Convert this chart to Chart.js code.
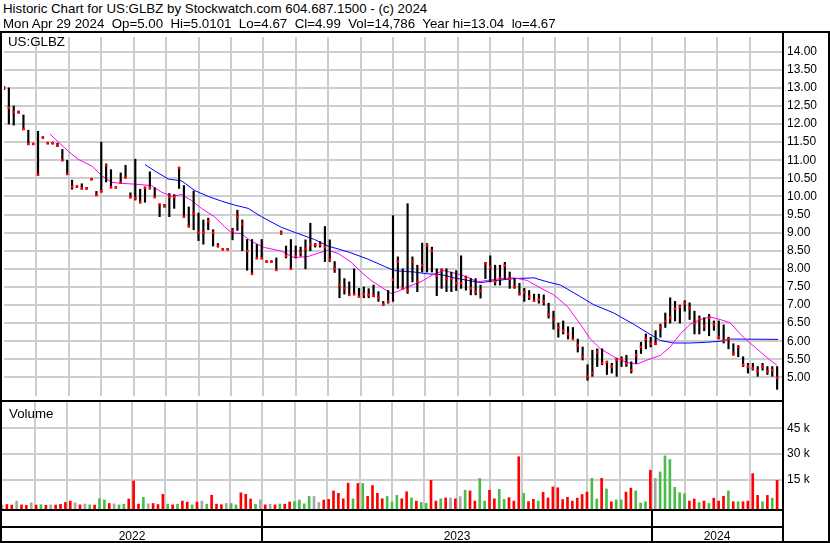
<!DOCTYPE html>
<html>
<head>
<meta charset="utf-8">
<script src="https://cdn.jsdelivr.net/npm/chart.js@4.4.0/dist/chart.umd.min.js"></script>
<style>
  body { margin: 0; background: #fff; }
  #wrap { position: relative; width: 830px; height: 543px; background: #fff; overflow: hidden;
          font-family: "Liberation Sans", Arial, sans-serif; font-size: 13.3px; color: #000; }
  .t { position: absolute; white-space: pre; line-height: 15px; }
  .k { position: absolute; background: #000; }
  canvas { position: absolute; left: 0; }
</style>
</head>
<body>
<div id="wrap">
  <canvas id="price" width="830" height="367" style="top:33px"></canvas>
  <canvas id="vol" width="830" height="141" style="top:402px"></canvas>

  <div class="t" style="left:3px;top:1px">Historic Chart for US:GLBZ by Stockwatch.com 604.687.1500 - (c) 2024</div>
  <div class="t" style="left:3px;top:16px">Mon Apr 29 2024  Op=5.00  Hi=5.0101  Lo=4.67  Cl=4.99  Vol=14,786  Year hi=13.04  lo=4.67</div>
  <div class="t" style="left:8px;top:34px">US:GLBZ</div>
  <div class="t" style="left:9px;top:406px">Volume</div>

  <div class="k" style="left:0;top:31px;width:830px;height:2px"></div>
  <div class="k" style="left:0;top:31px;width:2px;height:512px"></div>
  <div class="k" style="left:782px;top:31px;width:2px;height:512px"></div>
  <div class="k" style="left:828px;top:31px;width:2px;height:512px"></div>
  <div class="k" style="left:0;top:400px;width:784px;height:2px"></div>
  <div class="k" style="left:0;top:509px;width:784px;height:2px"></div>
  <div class="k" style="left:0;top:526px;width:784px;height:2px"></div>
  <div class="k" style="left:0;top:541px;width:830px;height:2px"></div>
</div>

<script>
// x axis is in months since May 1 2022; one sample every STEP months
const STEP = 0.15;
const MONTHS = 24;

// sampled bars: low / high / close
const lows = [
  12.95, 12.0, 11.97, 12.3, 11.85, 11.43, 11.43, 10.6, 11.6, 11.45,
  11.45, 11.38, 11.0, 10.6, 10.2, 10.25, 10.2, 10.2, 10.45, 10.02,
  10.12, 10.4, 10.25, 10.23, 10.38, 10.52, 9.96, 9.9, 9.82, 9.84,
  10.2, 9.98, 9.44, 9.7, 9.44, 9.67, 10.22, 9.44, 9.17, 9.08,
  8.78, 8.68, 9.08, 8.63, 8.6, 8.52, 8.52, 8.8, 9.06, 8.5,
  7.96, 7.86, 8.29, 8.29, 8.18, 8.18, 7.97, 8.95, 8.3, 8.0,
  8.3, 8.35, 8.0, 8.5, 8.6, 8.6, 8.2, 8.2, 7.9, 7.2,
  7.3, 7.28, 7.28, 7.23, 7.2, 7.2, 7.23, 7.1, 7.0, 7.05,
  7.1, 7.46, 7.46, 7.32, 7.64, 7.37, 7.91, 7.91, 7.91, 7.26,
  7.46, 7.37, 7.37, 7.4, 7.46, 7.41, 7.28, 7.28, 7.19, 7.73,
  7.64, 7.55, 7.55, 7.73, 7.46, 7.46, 7.28, 7.1, 7.15, 7.1,
  7.05, 7.0, 6.64, 6.33, 6.11, 6.2, 6.06, 6.06, 5.7, 5.48,
  4.92, 5.03, 5.3, 5.35, 5.08, 5.12, 5.03, 5.3, 5.3, 5.12,
  5.39, 5.66, 5.79, 5.84, 5.9, 6.11, 6.38, 6.5, 6.56, 6.5,
  6.83, 6.6, 6.2, 6.2, 6.29, 6.15, 6.3, 6.06, 5.95, 5.79,
  5.61, 5.57, 5.3, 5.12, 5.2, 5.03, 5.2, 5.08, 5.03, 4.67
];
const highs = [
  13.04, 13.0, 12.5, 12.36, 12.25, 11.83, 11.47, 11.8, 11.65, 11.5,
  11.5, 11.47, 11.3, 11.0, 10.45, 10.3, 10.35, 10.25, 10.5, 10.14,
  11.5, 10.9, 10.74, 10.27, 10.65, 10.86, 10.1, 11.03, 10.2, 10.26,
  10.68, 10.24, 9.78, 9.78, 10.08, 10.05, 10.8, 10.3, 9.71, 10.15,
  9.54, 9.35, 9.4, 9.08, 8.7, 8.56, 8.56, 9.12, 9.62, 9.35,
  8.81, 8.81, 8.67, 8.81, 8.22, 8.22, 8.3, 9.05, 8.63, 8.81,
  8.63, 8.6, 8.8, 9.26, 8.7, 8.75, 9.17, 8.8, 8.2, 8.0,
  7.73, 7.64, 8.0, 7.46, 7.5, 7.45, 7.55, 7.37, 7.1, 7.4,
  9.47, 8.33, 8.0, 9.8, 8.33, 8.1, 8.71, 8.7, 8.6, 8.0,
  8.0, 8.0, 7.91, 7.95, 8.36, 7.8, 7.73, 7.73, 7.55, 8.18,
  8.36, 8.1, 8.1, 8.18, 7.91, 7.73, 7.6, 7.46, 7.4, 7.3,
  7.3, 7.28, 7.05, 6.83, 6.5, 6.56, 6.4, 6.38, 6.06, 5.84,
  5.35, 5.75, 5.79, 5.79, 5.45, 5.39, 5.52, 5.57, 5.61, 5.43,
  5.75, 5.97, 6.2, 6.11, 6.29, 6.47, 6.78, 7.2, 7.1, 7.0,
  7.12, 7.06, 6.83, 6.7, 6.65, 6.74, 6.56, 6.56, 6.45, 6.11,
  5.93, 5.88, 5.57, 5.39, 5.39, 5.3, 5.39, 5.3, 5.3, 5.3
];
const closes = [
  13.0, 12.45, 12.33, 12.33, 11.86, 11.45, 11.45, 10.6, 11.63, 11.47,
  11.47, 11.4, 11.0, 10.62, 10.27, 10.27, 10.22, 10.22, 10.48, 10.04,
  10.14, 10.86, 10.25, 10.25, 10.38, 10.52, 9.98, 9.95, 9.84, 10.24,
  10.24, 9.98, 9.78, 9.74, 10.0, 9.98, 10.79, 9.44, 9.17, 9.53,
  9.0, 9.0, 9.3, 9.0, 8.63, 8.54, 8.54, 9.06, 9.44, 9.24,
  8.49, 7.86, 8.29, 8.29, 8.2, 8.2, 7.97, 9.0, 8.36, 8.0,
  8.35, 8.45, 8.55, 8.67, 8.67, 8.67, 8.6, 8.25, 8.0, 7.55,
  7.45, 7.28, 7.3, 7.23, 7.3, 7.28, 7.25, 7.2, 7.01, 7.1,
  7.7, 8.2, 7.46, 7.4, 8.2, 7.64, 8.09, 8.65, 8.5, 7.82,
  7.95, 7.73, 7.73, 7.6, 7.6, 7.75, 7.46, 7.37, 7.4, 8.15,
  8.05, 7.65, 7.73, 8.09, 7.73, 7.5, 7.3, 7.35, 7.23, 7.12,
  7.15, 7.1, 6.74, 6.6, 6.38, 6.29, 6.2, 6.06, 5.88, 5.57,
  5.03, 5.12, 5.7, 5.4, 5.42, 5.3, 5.48, 5.5, 5.39, 5.2,
  5.61, 5.84, 6.06, 5.93, 5.93, 6.38, 6.56, 6.65, 6.9, 6.95,
  7.05, 6.92, 6.5, 6.6, 6.42, 6.65, 6.47, 6.11, 6.02, 6.06,
  5.66, 5.84, 5.35, 5.3, 5.25, 5.17, 5.3, 5.17, 5.2, 4.99
];
const volumes = [
  500, 800, 500, 2800, 600, 300, 1800, 500, 700, 400,
  600, 500, 900, 2000, 2800, 1800, 600, 1100, 600, 500,
  4200, 3500, 1400, 1200, 600, 900, 4000, 14500, 1000, 5000,
  1200, 1400, 800, 6700, 1000, 600, 1000, 2800, 2200, 600,
  2200, 2800, 1000, 6200, 1000, 700, 1400, 1400, 600, 7600,
  6700, 4000, 900, 3500, 600, 1000, 600, 1100, 1000, 2300,
  2500, 3400, 1200, 5500, 5500, 2000, 3400, 3800, 8700, 7300,
  4100, 13200, 4100, 13000, 13000, 5500, 11800, 7300, 4100, 5500,
  2300, 6100, 4100, 8200, 4600, 2800, 2000, 1500, 14800, 2800,
  4100, 4600, 4600, 4100, 5400, 9100, 8700, 2800, 15900, 2800,
  9100, 4100, 9600, 3800, 4800, 2800, 28500, 7300, 2500, 3800,
  2800, 7900, 4600, 11000, 10500, 3700, 5000, 2800, 4500, 6600,
  8000, 16000, 4000, 16000, 9800, 2400, 3500, 3500, 8000, 10300,
  8700, 1700, 2400, 20700, 16000, 19700, 29000, 26900, 10800, 7700,
  7000, 2800, 4000, 1900, 2800, 1400, 4500, 2800, 5600, 8700,
  2400, 2400, 2400, 2800, 18700, 6100, 2400, 6100, 4500, 14786
];

// moving averages (month, price)
const maShortMonths = [1.42, 1.99, 2.30, 2.71, 3.02, 3.32, 3.63, 4.04, 4.55, 4.86, 5.17, 5.48, 5.78, 6.09, 6.49, 6.80, 7.02, 7.32, 7.63, 8.03,
  8.55, 8.95, 9.38, 9.68, 9.99, 10.30, 10.71, 11.02, 11.32, 11.63, 11.94, 12.14, 12.45, 12.86, 13.27, 13.58, 13.99, 14.30, 14.61, 14.91,
  15.32, 15.73, 16.14, 16.55, 16.96, 17.38, 17.78, 18.09, 18.40, 18.81, 19.22, 19.53, 19.84, 20.25, 20.55, 20.86, 21.17, 21.48, 21.78, 22.09,
  22.40, 22.81, 23.22, 23.63, 23.84];
const maShort = [11.72, 11.24, 11.02, 10.84, 10.57, 10.39, 10.36, 10.34, 10.30, 10.12, 10.00, 10.05, 9.89, 9.67, 9.44, 9.17, 8.99, 8.97, 8.76, 8.59,
  8.49, 8.31, 8.34, 8.43, 8.51, 8.43, 8.18, 7.91, 7.68, 7.50, 7.32, 7.37, 7.50, 7.64, 7.86, 7.95, 7.86, 7.77, 7.64, 7.68,
  7.73, 7.75, 7.68, 7.47, 7.28, 6.96, 6.47, 6.06, 5.79, 5.57, 5.41, 5.37, 5.48, 5.61, 5.84, 6.20, 6.47, 6.60, 6.67, 6.60,
  6.51, 6.11, 5.79, 5.48, 5.34];
const maLongMonths = [4.35, 4.66, 5.07, 5.48, 5.89, 6.30, 6.71, 7.12, 7.53, 7.94, 8.55, 8.96, 9.58, 9.99, 10.61, 11.22, 11.73, 12.04, 12.66, 13.07,
  13.48, 13.89, 14.30, 14.71, 15.22, 15.73, 16.35, 16.76, 17.17, 17.78, 18.19, 18.81, 19.42, 19.84, 20.25, 20.66, 21.17, 21.68, 22.09, 22.40, 23.88];
const maLong = [10.88, 10.70, 10.48, 10.43, 10.16, 10.00, 9.87, 9.76, 9.67, 9.44, 9.15, 9.01, 8.81, 8.63, 8.47, 8.27, 8.07, 7.95, 7.91, 7.86,
  7.84, 7.75, 7.68, 7.62, 7.68, 7.73, 7.75, 7.64, 7.55, 7.23, 7.01, 6.78, 6.47, 6.24, 6.02, 5.95, 5.95, 5.97, 6.00, 6.06, 6.05];

const priceTicks = [5, 5.5, 6, 6.5, 7, 7.5, 8, 8.5, 9, 9.5, 10, 10.5, 11, 11.5, 12, 12.5, 13, 13.5, 14];
const volTicks = [15000, 30000, 45000];
const yearLabels = ['2022', '2023', '2024'];
const yearStarts = [0, 8, 20, 24];

Chart.defaults.font.family = '"Liberation Sans", Arial, sans-serif';
Chart.defaults.font.size = 12;
Chart.defaults.color = '#000';

const GRID = '#cdcdcd';
const monthTicks = [];
for (let m = 0; m <= MONTHS; m++) monthTicks.push(m);
const gridColor = (ctx) => (ctx.tick && (ctx.tick.value === 0 || ctx.tick.value === MONTHS)) ? 'rgba(0,0,0,0)' : GRID;

// keep the plot area exactly where the frame is
const noPad = (s) => { s.paddingTop = 0; s.paddingBottom = 0; s.paddingLeft = 0; s.paddingRight = 0; };

const xs = closes.map((c, i) => i * STEP);

new Chart(document.getElementById('price'), {
  type: 'bar',
  data: {
    datasets: [
      {
        type: 'scatter',
        data: closes.map((c, i) => ({ x: xs[i], y: c })),
        pointStyle: 'rect', pointRadius: 1.8, borderWidth: 0,
        backgroundColor: '#ff0000', showLine: false
      },
      {
        type: 'bar',
        data: closes.map((c, i) => ({ x: xs[i], y: [lows[i], highs[i]] })),
        backgroundColor: '#000', barThickness: 1.5, borderWidth: 0
      },
      {
        type: 'line',
        data: maShort.map((v, i) => ({ x: maShortMonths[i], y: v })),
        borderColor: '#ff00ff', borderWidth: 1, pointRadius: 0, tension: 0
      },
      {
        type: 'line',
        data: maLong.map((v, i) => ({ x: maLongMonths[i], y: v })),
        borderColor: '#0000ff', borderWidth: 1, pointRadius: 0, tension: 0
      }
    ]
  },
  options: {
    responsive: false, animation: false, devicePixelRatio: 1,
    layout: { padding: { left: 2, right: 0, top: 0, bottom: 0 } },
    plugins: { legend: { display: false }, tooltip: { enabled: false } },
    scales: {
      x: {
        type: 'linear', min: 0, max: MONTHS, offset: false,
        afterBuildTicks: (s) => { s.ticks = monthTicks.map(v => ({ value: v })); },
        afterFit: (s) => { s.height = 0; noPad(s); },
        ticks: { display: false },
        grid: { color: gridColor, lineWidth: 2, drawTicks: false, offset: false },
        border: { display: false }
      },
      y: {
        position: 'right', min: 4.486, max: 14.405,
        afterBuildTicks: (s) => { s.ticks = priceTicks.map(v => ({ value: v })); },
        afterFit: (s) => { s.width = 48; noPad(s); },
        ticks: { padding: 5, callback: (v) => Number(v).toFixed(2), autoSkip: false },
        grid: { color: GRID, lineWidth: 2, drawTicks: false },
        border: { display: false }
      }
    }
  }
});

const volColors = closes.map((c, i) =>
  i === 0 || c === closes[i - 1] ? '#a6a6a6' : (c > closes[i - 1] ? '#4cbb4c' : '#ff0000'));

const yearDividers = {
  id: 'yearDividers',
  afterDraw(chart) {
    const { ctx, scales: { x }, chartArea } = chart;
    ctx.save();
    ctx.fillStyle = '#000';
    yearStarts.slice(1, -1).forEach(m => {
      const px = Math.round(x.getPixelForValue(m));
      ctx.fillRect(px - 1, chartArea.bottom, 2, chart.height - chartArea.bottom);
    });
    ctx.restore();
  }
};

const yearCentres = yearLabels.map((l, i) => (yearStarts[i] + yearStarts[i + 1]) / 2);

new Chart(document.getElementById('vol'), {
  type: 'bar',
  data: {
    datasets: [{
      data: volumes.map((v, i) => ({ x: xs[i], y: v })),
      backgroundColor: volColors, barThickness: 2, borderWidth: 0, base: -1800
    }]
  },
  options: {
    responsive: false, animation: false, devicePixelRatio: 1,
    layout: { padding: { left: 2, right: 0, top: 0, bottom: 0 } },
    plugins: { legend: { display: false }, tooltip: { enabled: false } },
    scales: {
      x: {
        type: 'linear', min: 0, max: MONTHS, offset: false,
        afterBuildTicks: (s) => { s.ticks = monthTicks.map(v => ({ value: v })); },
        afterFit: (s) => { s.height = 34; noPad(s); },
        ticks: {
          autoSkip: false, maxRotation: 0, padding: 20,
          callback: (v) => { const k = yearCentres.indexOf(v); return k >= 0 ? yearLabels[k] : ''; }
        },
        grid: { color: gridColor, lineWidth: 2, drawTicks: false, offset: false },
        border: { display: false }
      },
      y: {
        position: 'right', min: -1800, max: 60260,
        afterBuildTicks: (s) => { s.ticks = volTicks.map(v => ({ value: v })); },
        afterFit: (s) => { s.width = 48; noPad(s); },
        ticks: { padding: 5, callback: (v) => (v / 1000) + ' k' },
        grid: { color: GRID, lineWidth: 2, drawTicks: false },
        border: { display: false }
      }
    }
  },
  plugins: [yearDividers]
});
</script>
</body>
</html>
